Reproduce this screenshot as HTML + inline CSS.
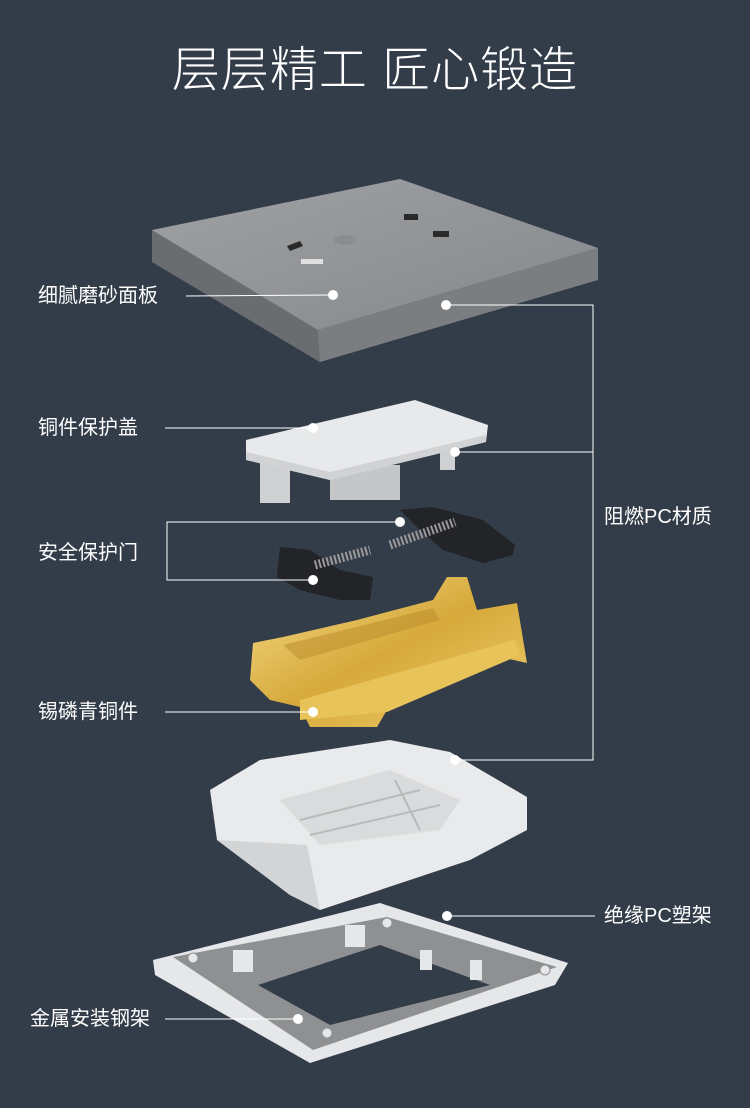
<!DOCTYPE html>
<html><head><meta charset="utf-8"><style>
html,body{margin:0;padding:0;}
body{width:750px;height:1108px;background:#333c49;position:relative;overflow:hidden;font-family:"Liberation Sans","Noto Sans CJK SC",sans-serif;}
.t{position:absolute;left:0;width:750px;top:30px;text-align:center;color:#fff;font-size:48px;font-weight:300;letter-spacing:1px;}
.l{position:absolute;color:#fff;font-size:20px;line-height:24px;}
svg{position:absolute;left:0;top:0;}
</style></head><body>
<div class="t">层层精工 匠心锻造</div>
<svg width="750" height="1108" viewBox="0 0 750 1108">
<defs>
<linearGradient id="g1" x1="0" y1="0" x2="1" y2="1"><stop offset="0" stop-color="#9fa1a3"/><stop offset="1" stop-color="#85888b"/></linearGradient>
<linearGradient id="gold" x1="0" y1="0" x2="1" y2="1"><stop offset="0" stop-color="#f6dc8a"/><stop offset=".5" stop-color="#d6a93a"/><stop offset="1" stop-color="#f0cf6e"/></linearGradient>
</defs>
<!-- faceplate -->
<polygon points="152,230 152,262 320,362 598,280 598,248 318,330" fill="#7b7e81"/>
<polygon points="152,230 318,330 320,362 152,262" fill="#6a6d70"/>
<polygon points="152,230 400,179 598,248 318,330" fill="url(#g1)"/>
<polygon points="287,246 300,241 303,246 290,251" fill="#2a2a2a"/>
<rect x="301" y="259" width="22" height="5" fill="#e0e0e0"/>
<ellipse cx="345" cy="240" rx="11" ry="5" fill="#8a8d90"/>
<rect x="404" y="214" width="14" height="6" fill="#2a2a2a"/>
<rect x="433" y="231" width="16" height="6" fill="#2a2a2a"/>
<!-- cover -->
<rect x="260" y="455" width="30" height="48" fill="#cfd0d1"/>
<rect x="330" y="465" width="70" height="35" fill="#c4c6c8"/>
<rect x="440" y="445" width="15" height="25" fill="#cfd0d1"/>
<polygon points="246,440 415,400 488,425 486,442 330,480 246,460" fill="#e8e9ea"/>
<polygon points="246,452 330,472 486,435 486,442 330,480 246,460" fill="#d0d2d4"/>
<!-- shutters -->
<polygon points="400,510 433,507 483,520 515,545 513,555 483,563 443,550 420,530" fill="#232427"/>
<line x1="390" y1="545" x2="455" y2="522" stroke="#9a9a9a" stroke-width="9" stroke-dasharray="2 2"/>
<polygon points="280,547 310,550 340,570 373,577 370,600 340,600 300,590 277,577" fill="#232427"/>
<line x1="315" y1="565" x2="370" y2="550" stroke="#9a9a9a" stroke-width="9" stroke-dasharray="2 2"/>
<!-- gold -->
<polygon points="253,643 283,637 357,620 433,600 447,577 467,577 477,610 517,603 527,663 500,657 387,710 377,727 310,727 300,707 270,700 250,680" fill="url(#gold)"/>
<polygon points="300,700 515,640 520,655 387,712 300,720" fill="#e8c35a"/>
<polygon points="283,645 433,608 440,620 300,660" fill="#b9892a" opacity=".5"/>
<!-- base -->
<polygon points="210,790 260,760 390,740 450,752 527,797 527,830 470,860 410,880 320,910 290,895 217,840" fill="#e9eaeb"/>
<polygon points="217,840 307,845 320,910 290,895" fill="#d2d4d6"/>
<polygon points="280,800 390,770 460,800 440,830 320,845" fill="#d9dbdc"/>
<g stroke="#b8babc" stroke-width="2" fill="none"><line x1="300" y1="820" x2="420" y2="790"/><line x1="310" y1="835" x2="440" y2="805"/><line x1="395" y1="780" x2="420" y2="830"/></g>
<!-- frame -->
<polygon points="153,960 380,903 568,963 555,985 310,1063 155,975" fill="#e6e7e8"/>
<polygon points="173,957 387,917 557,967 313,1050" fill="#8e9092"/>
<polygon points="258,985 380,945 490,985 330,1025" fill="#333c49"/>
<g fill="#e6e7e8"><rect x="233" y="950" width="20" height="22"/><rect x="345" y="925" width="20" height="22"/><rect x="420" y="950" width="12" height="20"/><rect x="470" y="960" width="12" height="20"/></g>
<g fill="#e6e7e8" stroke="#8e9092"><circle cx="193" cy="958" r="5"/><circle cx="387" cy="923" r="5"/><circle cx="545" cy="970" r="5"/><circle cx="327" cy="1033" r="5"/></g>
<!-- connectors -->
<g stroke="#fff" stroke-width="1" fill="none">
<line x1="186" y1="296" x2="333" y2="295"/>
<polyline points="446,305 593,305 593,760 455,760"/>
<line x1="455" y1="452" x2="593" y2="452"/>
<line x1="165" y1="428" x2="313" y2="428"/>
<polyline points="400,522 167,522 167,580 313,580"/>
<line x1="165" y1="712" x2="313" y2="712"/>
<line x1="447" y1="916" x2="595" y2="916"/>
<line x1="165" y1="1019" x2="298" y2="1019"/>
</g>
<g fill="#fff">
<circle cx="333" cy="295" r="5"/><circle cx="446" cy="305" r="5"/><circle cx="313" cy="428" r="5"/><circle cx="455" cy="452" r="5"/><circle cx="400" cy="522" r="5"/><circle cx="313" cy="580" r="5"/><circle cx="313" cy="712" r="5"/><circle cx="455" cy="760" r="5"/><circle cx="447" cy="916" r="5"/><circle cx="298" cy="1019" r="5"/>
</g>
</svg>
<div class="l" style="left:38px;top:284px">细腻磨砂面板</div>
<div class="l" style="left:38px;top:416px">铜件保护盖</div>
<div class="l" style="left:38px;top:541px">安全保护门</div>
<div class="l" style="left:38px;top:700px">锡磷青铜件</div>
<div class="l" style="left:604px;top:505px">阻燃PC材质</div>
<div class="l" style="left:604px;top:904px">绝缘PC塑架</div>
<div class="l" style="left:30px;top:1007px">金属安装钢架</div>
</body></html>
